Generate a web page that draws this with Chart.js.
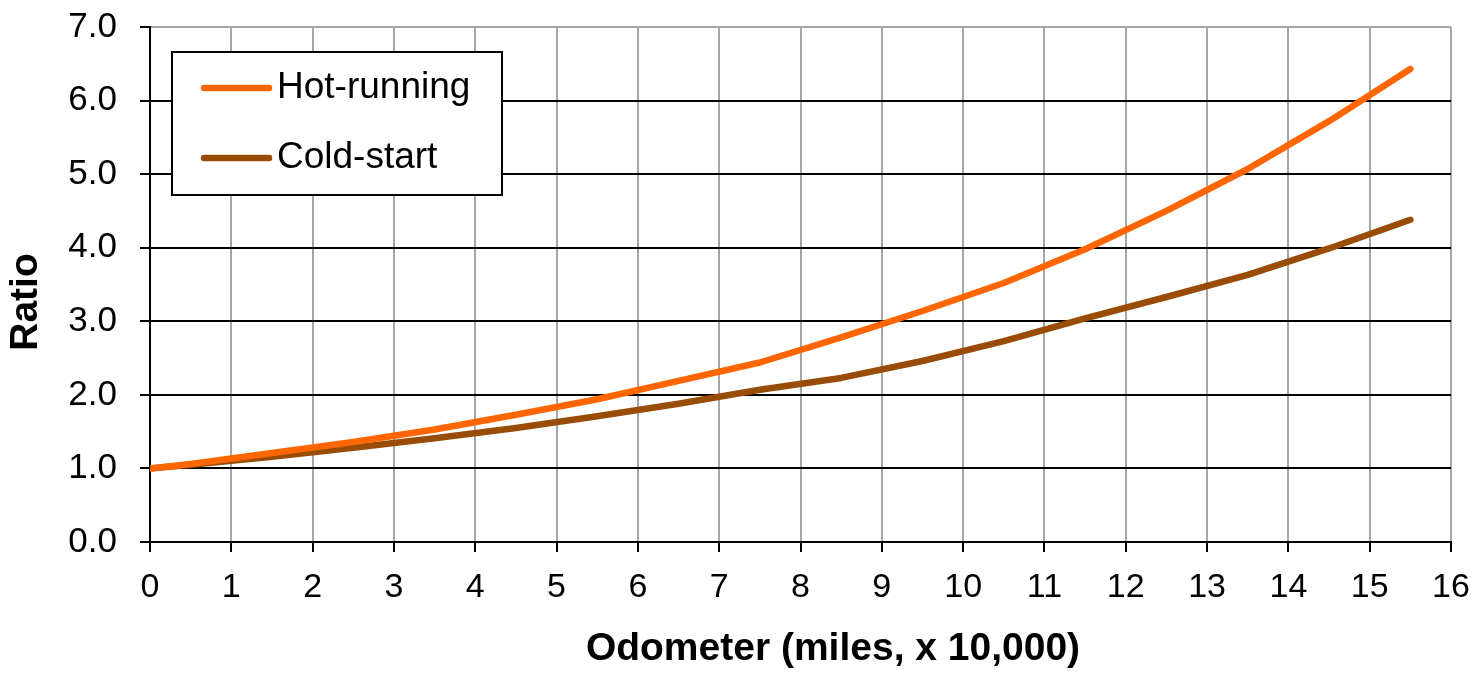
<!DOCTYPE html>
<html>
<head>
<meta charset="utf-8">
<title>Ratio vs Odometer</title>
<script src="https://cdn.jsdelivr.net/npm/chart.js@4.4.1/dist/chart.umd.min.js"></script>
<style>
  html, body { margin: 0; padding: 0; background: #ffffff; }
  canvas { display: block; }
</style>
</head>
<body>
<canvas id="chart" width="1478" height="673"></canvas>
<script>
// Odometer readings (miles, x 10,000)
const odometer = [0, 0.5, 1.5, 2.5, 3.5, 4.5, 5.5, 6.5, 7.5, 8.5, 9.5, 10.5, 11.5, 12.5, 13.5, 14.5, 15.5];
// Emission ratio relative to a new vehicle
const hotRunning = [1.00, 1.06, 1.21, 1.36, 1.53, 1.73, 1.94, 2.19, 2.44, 2.78, 3.14, 3.52, 3.98, 4.50, 5.07, 5.72, 6.43];
const coldStart  = [1.00, 1.05, 1.16, 1.28, 1.41, 1.55, 1.71, 1.88, 2.07, 2.23, 2.46, 2.73, 3.04, 3.33, 3.63, 3.99, 4.38];

const seriesNames = ['Hot-running', 'Cold-start'];
const xTitle = 'Odometer (miles, x 10,000)';
const yTitle = 'Ratio';

const FONT = '"Liberation Sans", Arial, Helvetica, sans-serif';
const HOT_COLOR = '#FF6600';
const COLD_COLOR = '#994C05';
const GRID_GRAY = '#A6A6A6';

const toPoints = (xs, ys) => xs.map((x, i) => ({ x: x, y: ys[i] }));

// Boxed legend inside the plot area, upper left
const boxLegend = {
  id: 'boxLegend',
  afterDatasetsDraw(chart) {
    const ctx = chart.ctx;
    const left = 172, top = 52, w = 330, h = 143;
    ctx.save();
    ctx.fillStyle = '#ffffff';
    ctx.fillRect(left, top, w, h);
    ctx.lineWidth = 2;
    ctx.strokeStyle = '#000000';
    ctx.strokeRect(left, top, w, h);
    const rows = [88, 158];
    chart.data.datasets.forEach((ds, i) => {
      const y = rows[i];
      ctx.beginPath();
      ctx.lineCap = 'round';
      ctx.lineWidth = 6.5;
      ctx.strokeStyle = ds.borderColor;
      ctx.moveTo(204, y);
      ctx.lineTo(269, y);
      ctx.stroke();
      ctx.fillStyle = '#000000';
      ctx.font = '37px ' + FONT;
      ctx.textBaseline = 'middle';
      ctx.textAlign = 'left';
      ctx.fillText(ds.label, 277, y);
    });
    ctx.restore();
  }
};

// Axis titles
const axisTitles = {
  id: 'axisTitles',
  afterDraw(chart) {
    const ctx = chart.ctx;
    ctx.save();
    ctx.fillStyle = '#000000';
    ctx.font = 'bold 39px ' + FONT;
    ctx.textAlign = 'center';
    ctx.textBaseline = 'middle';
    ctx.fillText(xTitle, 833, 649);
    ctx.translate(26, 302);
    ctx.rotate(-Math.PI / 2);
    ctx.fillText(yTitle, 0, 0);
    ctx.restore();
  }
};

new Chart(document.getElementById('chart'), {
  type: 'line',
  data: {
    datasets: [
      {
        label: seriesNames[0],
        data: toPoints(odometer, hotRunning),
        borderColor: HOT_COLOR,
        backgroundColor: HOT_COLOR,
        borderWidth: 6.5,
        borderCapStyle: 'round',
        borderJoinStyle: 'round',
        pointRadius: 0,
        tension: 0,
        fill: false
      },
      {
        label: seriesNames[1],
        data: toPoints(odometer, coldStart),
        borderColor: COLD_COLOR,
        backgroundColor: COLD_COLOR,
        borderWidth: 6.5,
        borderCapStyle: 'round',
        borderJoinStyle: 'round',
        pointRadius: 0,
        tension: 0,
        fill: false
      }
    ]
  },
  options: {
    responsive: false,
    animation: false,
    events: [],
    layout: { padding: { top: 27, right: 27, left: 0, bottom: 0 } },
    plugins: {
      legend: { display: false },
      tooltip: { enabled: false },
      title: { display: false }
    },
    scales: {
      x: {
        type: 'linear',
        min: 0,
        max: 16,
        ticks: {
          stepSize: 1,
          color: '#000000',
          font: { family: FONT, size: 34 },
          padding: 15
        },
        grid: {
          color: GRID_GRAY,
          lineWidth: 2,
          tickColor: '#000000',
          tickLength: 10,
          tickWidth: 2
        },
        border: { display: true, color: '#000000', width: 2 },
        afterFit(scale) {
          scale.height = 131;
          scale.paddingLeft = 0;
          scale.paddingRight = 0;
        }
      },
      y: {
        min: 0,
        max: 7,
        ticks: {
          stepSize: 1,
          color: '#000000',
          font: { family: FONT, size: 35 },
          padding: 23,
          callback: (v) => Number(v).toFixed(1)
        },
        grid: {
          color: (c) => (c.tick && c.tick.value === 7 ? GRID_GRAY : '#000000'),
          lineWidth: 2,
          tickColor: '#000000',
          tickLength: 10,
          tickWidth: 2
        },
        border: { display: true, color: '#000000', width: 2 },
        afterFit(scale) {
          scale.width = 150;
          scale.paddingTop = 0;
          scale.paddingBottom = 0;
        }
      }
    }
  },
  plugins: [boxLegend, axisTitles]
});
</script>
</body>
</html>
